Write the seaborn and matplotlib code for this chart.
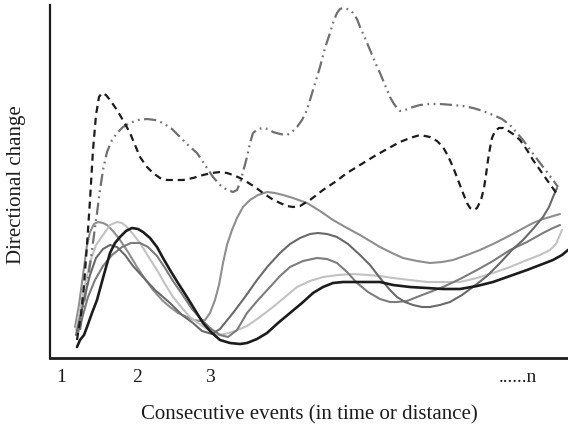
import matplotlib
matplotlib.use("Agg")
import matplotlib.pyplot as plt
import seaborn as sns

# schematic curves, x/y in arbitrary units
dashed_x = [27, 31, 34, 37, 40, 43, 46, 49, 52, 56, 60, 67, 74, 80, 90, 97, 103, 110, 117, 133, 143, 153,
            162, 170, 177, 183, 190, 197, 205, 213, 222, 230, 237, 243, 250, 260, 273, 285, 297, 310, 323,
            337, 350, 360, 370, 380, 387, 393, 398, 403, 408, 413, 417, 420, 424, 427, 431, 434, 436, 438,
            440, 442, 445, 449, 453, 457, 463, 470, 477, 483, 490, 497, 502, 507]
dashed_y = [18, 43, 73, 113, 158, 208, 243, 261, 265, 263, 258, 248, 236, 225, 201, 191, 185, 180, 178, 178,
            180, 183, 185, 186, 185, 183, 180, 176, 171, 165, 159, 155, 152, 151, 152, 158, 168, 176, 185,
            193, 201, 209, 216, 220, 223, 221, 217, 211, 202, 191, 178, 165, 155, 150, 148, 150, 158, 170,
            183, 198, 210, 220, 227, 230, 230, 228, 224, 218, 208, 198, 188, 178, 171, 164]

dashdot_x = [30, 33, 37, 41, 44, 47, 50, 53, 57, 62, 67, 73, 80, 88, 97, 105, 113, 122, 130, 138, 147, 155,
             163, 170, 177, 183, 187, 190, 193, 197, 200, 203, 208, 213, 218, 223, 230, 237, 242, 247, 252,
             257, 263, 270, 275, 280, 284, 287, 290, 293, 297, 300, 303, 307, 310, 315, 320, 325, 330, 335,
             340, 344, 347, 350, 355, 363, 370, 380, 390, 403, 413, 423, 433, 443, 452, 460, 467, 473, 481,
             490, 497, 503, 508]
dashdot_y = [28, 48, 73, 100, 123, 145, 168, 188, 206, 218, 225, 231, 235, 238, 239, 238, 235, 229, 221,
             213, 205, 193, 181, 173, 168, 166, 168, 175, 186, 201, 215, 225, 229, 230, 229, 226, 224, 223,
             226, 231, 238, 248, 268, 291, 310, 325, 338, 345, 349, 350, 349, 348, 345, 339, 331, 320, 308,
             296, 285, 273, 261, 254, 250, 247, 248, 251, 253, 254, 254, 253, 252, 250, 247, 243, 239, 233,
             225, 218, 207, 195, 186, 178, 171]

gray_hi_x = [25, 29, 33, 37, 40, 44, 48, 53, 57, 63, 70, 78, 87, 95, 103, 112, 120, 128, 137, 144, 150, 155,
             160, 165, 169, 173, 177, 182, 187, 193, 200, 208, 217, 225, 233, 243, 257, 270, 283, 297, 310,
             320, 330, 342, 353, 367, 380, 392, 403, 417, 430, 443, 457, 470, 483, 493, 500, 510]
gray_hi_y = [31, 53, 83, 113, 126, 134, 136, 135, 133, 127, 118, 106, 91, 79, 68, 58, 51, 45, 41, 38, 37,
             38, 45, 58, 73, 95, 113, 128, 140, 151, 158, 163, 166, 165, 163, 160, 155, 147, 138, 130, 123,
             117, 111, 105, 100, 97, 95, 96, 98, 103, 108, 114, 121, 128, 135, 139, 141, 144]

light_x = [26, 30, 35, 40, 46, 53, 60, 67, 72, 77, 83, 90, 98, 107, 115, 123, 132, 140, 148, 157, 167, 175,
           185, 197, 210, 223, 235, 247, 260, 273, 288, 303, 318, 330, 343, 360, 377, 393, 410, 427, 443,
           460, 477, 490, 500, 506, 512]
light_y = [28, 48, 73, 96, 113, 123, 133, 136, 135, 131, 124, 115, 102, 88, 74, 61, 50, 41, 35, 29, 23, 24,
           27, 32, 41, 51, 61, 71, 77, 81, 83, 84, 83, 82, 80, 78, 76, 76, 76, 80, 85, 91, 98, 103, 108,
           114, 128]

dark_x = [26, 30, 35, 40, 46, 53, 60, 67, 75, 83, 93, 105, 120, 132, 143, 152, 162, 170, 183, 195, 207, 218,
          230, 240, 250, 260, 268, 277, 287, 298, 310, 320, 330, 340, 347, 355, 363, 372, 380, 390, 400,
          412, 423, 437, 450, 462, 473, 483, 493, 499, 503, 507]
dark_y = [23, 40, 63, 83, 100, 109, 113, 111, 103, 92, 81, 68, 55, 43, 35, 27, 24, 29, 45, 61, 78, 92, 105,
          114, 120, 124, 125, 124, 121, 114, 103, 93, 80, 68, 61, 56, 53, 51, 51, 53, 56, 63, 71, 82, 95,
          108, 118, 129, 141, 151, 161, 170]

mid_x = [28, 33, 38, 45, 53, 62, 72, 81, 90, 98, 107, 115, 123, 132, 142, 150, 160, 170, 178, 187, 197, 208,
         220, 230, 240, 253, 267, 277, 287, 297, 307, 318, 330, 340, 347, 357, 367, 380, 393, 410, 427,
         443, 460, 477, 493, 503, 510]
mid_y = [25, 43, 61, 78, 92, 103, 111, 115, 115, 111, 102, 90, 77, 64, 49, 40, 30, 23, 21, 28, 45, 58, 71,
         82, 91, 97, 100, 99, 95, 86, 75, 66, 59, 56, 56, 57, 61, 66, 71, 79, 88, 97, 108, 116, 125, 130, 133]

black_x = [27, 30, 34, 37, 42, 47, 53, 60, 65, 70, 76, 82, 88, 93, 100, 107, 113, 120, 128, 137, 145, 153,
           161, 170, 180, 190, 197, 207, 217, 228, 240, 252, 263, 273, 283, 293, 303, 317, 330, 343, 360,
           377, 393, 410, 427, 443, 460, 477, 490, 503, 512, 518]
black_y = [11, 18, 23, 31, 45, 58, 80, 105, 115, 121, 127, 130, 129, 126, 120, 111, 100, 88, 75, 61, 48, 35,
           26, 18, 15, 14, 15, 19, 25, 35, 45, 55, 65, 71, 75, 76, 76, 76, 76, 73, 71, 70, 69, 69, 72, 76,
           82, 88, 93, 98, 103, 108]

tick_pos = [11, 87, 160, 468]
tick_labels = ["1", "2", "3", "......n"]

DASHED = (0, (3.2, 2.2))
DASHDOT = (0, (5.5, 2.0, 0.8, 2.0, 0.8, 2.0))

sns.set_style("white")
plt.rcParams['font.family'] = ['Liberation Serif', 'DejaVu Serif']

fig = plt.figure(figsize=(5.68, 4.26), dpi=100)
ax = fig.add_axes([50 / 568, 68 / 426, 518 / 568, 353 / 426])

curves = [
    (gray_hi_x, gray_hi_y, '#8e8e8e', 1.5, '-'),
    (light_x, light_y, '#c2c2c2', 1.5, '-'),
    (mid_x, mid_y, '#7c7c7c', 1.5, '-'),
    (dark_x, dark_y, '#696969', 1.5, '-'),
    (black_x, black_y, '#1c1c1c', 1.9, '-'),
    (dashdot_x, dashdot_y, '#707070', 1.6, DASHDOT),
    (dashed_x, dashed_y, '#1c1c1c', 1.6, DASHED),
]
for xs, ys, col, lw, ls in curves:
    sns.lineplot(x=xs, y=ys, ax=ax, color=col, linewidth=lw, linestyle=ls)

ax.set_xlim(0, 518)
ax.set_ylim(0, 353)
ax.set_xticks(tick_pos)
ax.set_xticklabels(tick_labels, fontsize=14, color='#1c1c1c')
ax.set_yticks([])
ax.tick_params(axis='x', length=0, pad=8)
for s in ['top', 'right']:
    ax.spines[s].set_visible(False)
ax.spines['left'].set_color('#1c1c1c')
ax.spines['left'].set_linewidth(1.6)
ax.spines['bottom'].set_color('#1c1c1c')
ax.spines['bottom'].set_linewidth(2.0)

ax.set_xlabel("Consecutive events (in time or distance)", fontsize=15, color='#1c1c1c')
ax.xaxis.set_label_coords(0.5, -0.135)
ax.set_ylabel("Directional change", fontsize=15, color='#1c1c1c')
ax.yaxis.set_label_coords(-0.047, 0.49)

fig.savefig("out.png", dpi=100)
